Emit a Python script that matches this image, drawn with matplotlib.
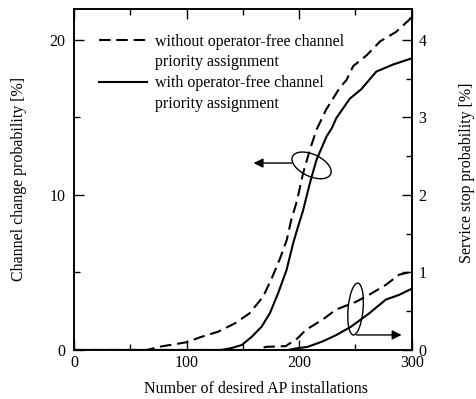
import matplotlib
matplotlib.use("Agg")
import matplotlib.pyplot as plt
from matplotlib.patches import Ellipse
from matplotlib.lines import Line2D
from matplotlib.ticker import MultipleLocator
import matplotlib.transforms as mtransforms

plt.rcParams['font.family'] = ['Liberation Serif', 'DejaVu Serif']
FS = 11.5
plt.rcParams['font.size'] = FS

# Channel change probability [%] (left axis)
x_cc_wo = [0, 65, 75, 85, 100, 112, 128, 143, 156, 168, 175.5, 183, 189, 193, 198, 203.5,
           209.5, 215.4, 224, 236, 242, 248, 260, 272, 286, 298, 300]
y_cc_wo = [0, 0, 0.2, 0.32, 0.5, 0.82, 1.18, 1.72, 2.37, 3.44, 4.6, 5.9, 7.1, 8.4, 9.6, 11.4,
           12.9, 14.2, 15.5, 16.9, 17.4, 18.3, 19.0, 19.9, 20.5, 21.3, 21.5]
x_cc_w = [0, 130, 138.5, 149, 158, 166.6, 174, 181.3, 188.8, 194.7, 199, 203.5, 209.5,
          215.4, 224.3, 229, 233, 245, 255, 268.6, 283.4, 300]
y_cc_w = [0, 0, 0.1, 0.32, 0.86, 1.5, 2.37, 3.66, 5.16, 6.9, 7.95, 9.0, 10.75,
          12.26, 13.76, 14.3, 14.95, 16.2, 16.8, 17.95, 18.4, 18.8]

# Service stop probability [%] (right axis)
x_ss_wo = [0, 165, 170, 188, 198.5, 206, 220.7, 232.6, 250.3, 262, 277, 288.7, 300]
y_ss_wo = [0, 0, 0.04, 0.05, 0.15, 0.26, 0.39, 0.52, 0.62, 0.71, 0.84, 0.97, 1.01]
x_ss_w = [0, 190, 197, 207.4, 220.7, 232.6, 246, 262, 277, 288.7, 300]
y_ss_w = [0, 0, 0.02, 0.04, 0.11, 0.19, 0.30, 0.47, 0.65, 0.71, 0.79]

legend_lines = ["without operator-free channel", "priority assignment",
                "with operator-free channel", "priority assignment"]

fig = plt.figure(figsize=(4.76, 3.99), dpi=100)
ax = fig.add_axes([0.1555, 0.1228, 0.7095, 0.8554])
ax2 = ax.twinx()

dash = (5.5, 2.8)
l1, = ax.plot(x_cc_wo, y_cc_wo, color='black', lw=1.5, dashes=dash)
l2, = ax.plot(x_cc_w, y_cc_w, color='black', lw=1.5)
ax2.plot(x_ss_wo, y_ss_wo, color='black', lw=1.5, dashes=dash)
ax2.plot(x_ss_w, y_ss_w, color='black', lw=1.5)

ax.set_xlim(0, 300)
ax.set_ylim(0, 22)
ax2.set_ylim(0, 4.4)

ax.xaxis.set_major_locator(MultipleLocator(100))
ax.xaxis.set_minor_locator(MultipleLocator(50))
ax.yaxis.set_major_locator(MultipleLocator(10))
ax.yaxis.set_minor_locator(MultipleLocator(5))
ax2.yaxis.set_major_locator(MultipleLocator(1))
ax2.yaxis.set_minor_locator(MultipleLocator(0.5))

ax.tick_params(which='both', direction='in', top=True, width=1.0, labelsize=FS)
ax.tick_params(which='major', length=7)
ax.tick_params(which='minor', length=4)
ax.tick_params(axis='y', pad=6)
ax2.tick_params(which='both', direction='in', width=1.0, labelsize=FS, pad=5)
ax2.tick_params(which='major', length=7)
ax2.tick_params(which='minor', length=4)

for a in (ax, ax2):
    for s in a.spines.values():
        s.set_linewidth(1.2)

ax.set_xlabel("Number of desired AP installations", fontsize=FS)
ax.xaxis.set_label_coords(0.54, -0.091)
ax.set_ylabel("Channel change probability [%]", fontsize=FS)
ax.yaxis.set_label_coords(-0.14, 0.5)
ax2.set_ylabel("Service stop probability [%]", fontsize=FS)
ax2.yaxis.set_label_coords(1.14, 0.52)

blank = Line2D([], [], color='none')
leg = ax.legend([l1, blank, l2, blank], legend_lines, loc='upper left',
                bbox_to_anchor=(0.04, 0.96), frameon=False, handlelength=3.0,
                handletextpad=0.55, labelspacing=0.3, fontsize=FS,
                borderpad=0.2)

# annotations: ellipse + arrow for left-axis curves
off1 = mtransforms.ScaledTranslation(211.0, 11.9, ax.transData)
ax.add_patch(Ellipse((0, 0), 0.42, 0.22, angle=-25, fill=False, lw=1.0, color='black',
                     transform=fig.dpi_scale_trans + off1))
ax.annotate("", xy=(159.5, 12.05), xytext=(193.5, 12.05),
            arrowprops=dict(arrowstyle='-|>', color='black', lw=1.0,
                            mutation_scale=14, shrinkA=0, shrinkB=0))

# annotations: ellipse + arrow for right-axis curves
off2 = mtransforms.ScaledTranslation(250.1, 0.528, ax2.transData)
ax2.add_patch(Ellipse((0, 0), 0.15, 0.52, angle=-5, fill=False, lw=1.0, color='black',
                      transform=fig.dpi_scale_trans + off2))
ax2.annotate("", xy=(291.0, 0.194), xytext=(250.9, 0.194),
             arrowprops=dict(arrowstyle='-|>', color='black', lw=1.0,
                             mutation_scale=14, shrinkA=0, shrinkB=0))

fig.savefig("out.png", dpi=100)
